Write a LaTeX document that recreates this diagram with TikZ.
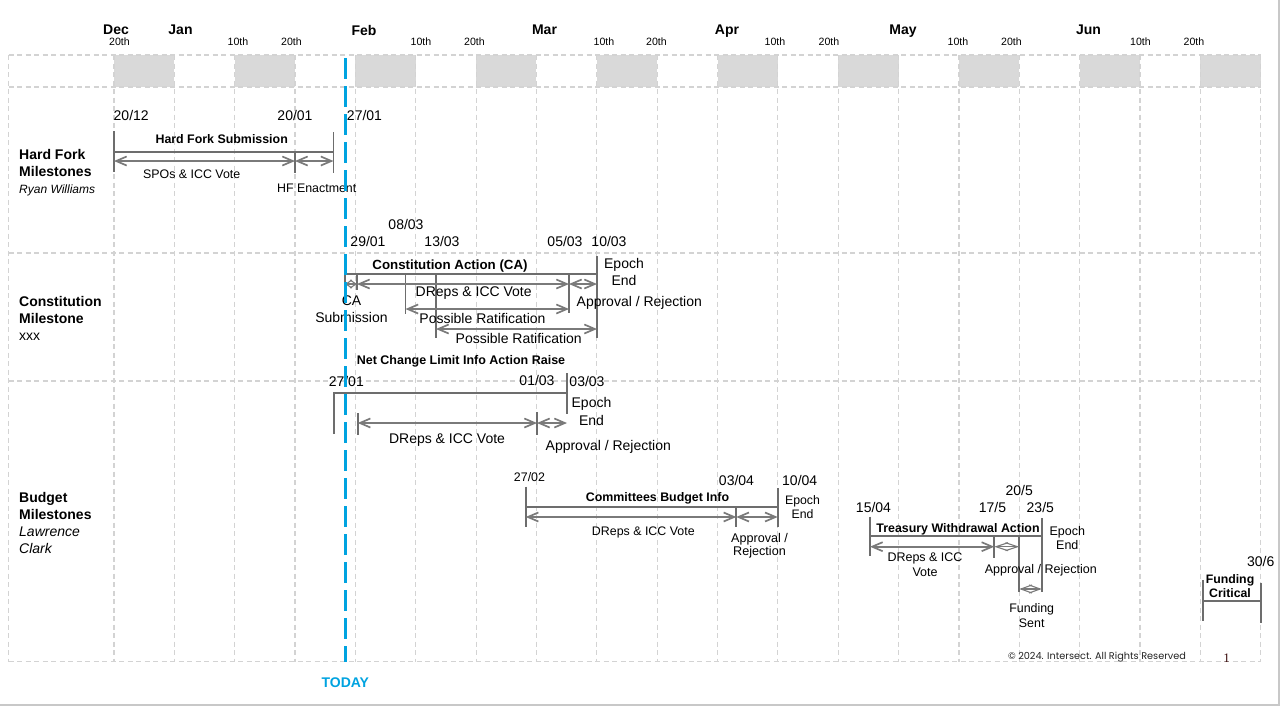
\documentclass[tikz,border=0pt]{standalone}
\usepackage{fontspec}
\usepackage{graphicx}
\setmainfont{Liberation Sans}
\newfontfamily\popfont{Poppins}
\newfontfamily\serfont{Liberation Serif}
\usetikzlibrary{arrows.meta}
\definecolor{gridc}{HTML}{D3D3D3}
\definecolor{bandc}{HTML}{D9D9D9}
\definecolor{barc}{HTML}{6D6D6D}
\definecolor{arrc}{HTML}{7A7A7A}
\definecolor{todayc}{HTML}{00A3E0}
\definecolor{framec}{HTML}{C8C8C8}
\definecolor{pagenumc}{HTML}{3A0C0C}
\definecolor{copyc}{HTML}{222222}
\newcommand\fsz[2]{\fontsize{#1}{#2}\selectfont}
\begin{document}
\begin{tikzpicture}[x=1pt,y=-1pt,
  gridline/.style={gridc, line width=1.2pt, dash pattern=on 5pt off 3.5pt},
  bandbox/.style={fill=bandc, draw=none},
  barline/.style={barc, line width=1.8pt},
  dbl/.style={arrc, line width=1.7pt, {Straight Barb[length=10.5pt,width=9pt]}-{Straight Barb[length=10.5pt,width=9pt]}},
  dia/.style={arrc, line width=1.1pt, {Straight Barb[length=#1,width=8pt]}-{Straight Barb[length=#1,width=8pt]}},
  txt/.style={inner sep=0pt, anchor=north, align=center},
  rowlbl/.style={inner sep=0pt, anchor=north west, align=left},
  tmonth/.style={txt, font=\fsz{14}{17}\bfseries},
  tday/.style={txt, font=\fsz{10.6}{12}},
  tdate/.style={txt, font=\fsz{14}{17}},
  tbig/.style={txt, font=\fsz{14}{17.4}},
  tsmall/.style={txt, font=\fsz{12.4}{14.3}},
  ttitle/.style={txt, font=\fsz{12.4}{14.3}\bfseries},
  todayline/.style={todayc, line width=3pt, dash pattern=on 21pt off 7pt},
  framel/.style={framec, line width=1.2pt}
]
\useasboundingbox (0,0) rectangle (1287,707);

% ---------- grid ----------
\foreach \i in {0,2,...,18}
  \fill[bandbox] ({114+60.35*\i},55) rectangle ({114+60.35*(\i+1)},87);
\foreach \yy in {55,87,253,381,661.5}
  \draw[gridline] (8.5,\yy) -- (1260.7,\yy);
\draw[gridline] (8.5,55) -- (8.5,661.5);
\foreach \i in {0,...,19}
  \draw[gridline] ({114+60.35*\i},55) -- ({114+60.35*\i},661.5);

% frame
\draw[framel] (1279,0) -- (1279,705) -- (0,705);

% ---------- header ----------
\node[tmonth] (mDec) at (116,24.8) {Dec};
\node[tmonth] (mJan) at (180.5,24.8) {Jan};
\node[tmonth] (mFeb) at (364,24.8) {Feb};
\node[tmonth] (mMar) at (544.5,24.8) {Mar};
\node[tmonth] (mApr) at (727,24.8) {Apr};
\node[tmonth] (mMay) at (903,24.8) {May};
\node[tmonth] (mJun) at (1088.5,24.8) {Jun};
\node[tday] (d1) at (119.5,38.1) {20th};
\node[tday] (d2) at (238,38.1) {10th};
\node[tday] (d3) at (291.5,38.1) {20th};
\node[tday] (d4) at (421,38.1) {10th};
\node[tday] (d5) at (474.5,38.1) {20th};
\node[tday] (d6) at (604,38.1) {10th};
\node[tday] (d7) at (656.5,38.1) {20th};
\node[tday] (d8) at (775,38.1) {10th};
\node[tday] (d9) at (829,38.1) {20th};
\node[tday] (d10) at (958,38.1) {10th};
\node[tday] (d11) at (1011.5,38.1) {20th};
\node[tday] (d12) at (1140.5,38.1) {10th};
\node[tday] (d13) at (1194,38.1) {20th};

% ---------- row labels ----------
\node[rowlbl, font=\fsz{14}{17}] (rHF) at (19,148.8)
  {\bfseries Hard Fork\\\bfseries Milestones\\\fsz{12}{16.7}\itshape Ryan Williams};
\node[rowlbl, font=\fsz{14}{17}] (rCM) at (19,296.3)
  {\bfseries Constitution\\\bfseries Milestone\\xxx};
\node[rowlbl, font=\fsz{14}{17}] (rBM) at (19,492.1)
  {\bfseries Budget\\\bfseries Milestones\\\itshape Lawrence\\\itshape Clark};

% ---------- Hard fork ----------
\coordinate (hfAt) at (114,131);   \coordinate (hfAb) at (114,172);
\coordinate (hfCt) at (333.5,132); \coordinate (hfCb) at (333.5,173);
\coordinate (hfBt) at (295,152);   \coordinate (hfBb) at (295,173);
\coordinate (hfL) at (114,152);    \coordinate (hfR) at (333.5,152);
\coordinate (hfa1) at (114,161); \coordinate (hfa2) at (295,161); \coordinate (hfa3) at (333.5,161);
\draw[barline] (hfAt) -- (hfAb);
\draw[barline] (hfCt) -- (hfCb);
\draw[barline] (hfBt) -- (hfBb);
\draw[barline] (hfL) -- (hfR);
\draw[dbl] (hfa1) -- (hfa2);
\draw[dbl] (hfa2) -- (hfa3);
\node[tdate] (hf1) at (131.2,110.5) {20/12};
\node[tdate] (hf2) at (295,110.5) {20/01};
\node[tdate] (hf3) at (364.5,110.5) {27/01};
\node[ttitle] (hfT) at (221.7,134.4) {Hard Fork Submission};
\node[tsmall] (hfV) at (191.7,169.4) {SPOs \& ICC Vote};
\node[tsmall] (hfE) at (316.7,183.4) {HF Enactment};

% ---------- Constitution ----------
\coordinate (c0t) at (345,257);   \coordinate (c0b) at (345,286);
\coordinate (cL) at (345,274);    \coordinate (cR) at (597,274);
\coordinate (c1t) at (357,274);   \coordinate (c1b) at (357,290);
\coordinate (c2t) at (405.5,274); \coordinate (c2b) at (405.5,314);
\coordinate (c3t) at (436,274);   \coordinate (c3b) at (436,338);
\coordinate (c4t) at (569,274);   \coordinate (c4b) at (569,313);
\coordinate (c5t) at (597,256);   \coordinate (c5b) at (597,338);
\coordinate (ca0) at (345,284); \coordinate (ca1) at (357,284);
\coordinate (ca4) at (569,284); \coordinate (ca5) at (597,284);
\coordinate (cp1) at (405.5,309); \coordinate (cp2) at (569,309);
\coordinate (cq1) at (436,329);   \coordinate (cq2) at (597,329);
\foreach \a/\b in {c0t/c0b,cL/cR,c1t/c1b,c2t/c2b,c3t/c3b,c4t/c4b,c5t/c5b}
  \draw[barline] (\a) -- (\b);
\draw[dia=6pt] (ca0) -- (ca1);
\draw[dbl] (ca1) -- (ca4);
\draw[dbl] (ca4) -- (ca5);
\draw[dbl] (cp1) -- (cp2);
\draw[dbl] (cq1) -- (cq2);
\node[tdate] (c08) at (406,218.8) {08/03};
\node[tdate] (c29) at (368,235.8) {29/01};
\node[tdate] (c13) at (442,235.8) {13/03};
\node[tdate] (c05) at (565,235.8) {05/03};
\node[tdate] (c10) at (609,235.8) {10/03};
\node[txt, font=\fsz{13.3}{15}\bfseries] (cT) at (450,259.4) {Constitution Action (CA)};
\node[tbig] (cEp) at (624,258.1) {Epoch\\End};
\node[tbig] (cSub) at (351.5,295.5) {CA\\Submission};
\node[tbig] (cV) at (473.7,286.8) {DReps \& ICC Vote};
\node[tbig] (cAR) at (639.3,295.8) {Approval / Rejection};
\node[tbig] (cPR1) at (482.5,313.1) {Possible Ratification};
\node[tbig] (cPR2) at (518.7,333.1) {Possible Ratification};

% ---------- Net change ----------
\coordinate (nL) at (334,392.7);  \coordinate (nR) at (567,392.7);
\coordinate (n0b) at (334,434);
\coordinate (n5t) at (567,373);   \coordinate (n5b) at (567,414);
\coordinate (n1t) at (357.7,413); \coordinate (n1b) at (357.7,435);
\coordinate (n2t) at (537,412);   \coordinate (n2b) at (537,435);
\coordinate (na1) at (357.7,423); \coordinate (na2) at (537,423); \coordinate (na3) at (567,423);
\draw[barline] (n0b) -- (nL) -- (nR);
\draw[barline] (n5t) -- (n5b);
\draw[barline] (n1t) -- (n1b);
\draw[barline] (n2t) -- (n2b);
\draw[dbl] (na1) -- (na2);
\draw[dbl] (na2) -- (na3);
\node[txt, font=\fsz{12.5}{14}\bfseries] (nT) at (461,355.4) {Net Change Limit Info Action Raise};
\node[tdate] (n27) at (346.3,375.8) {27/01};
\node[tdate] (n01) at (537,375) {01/03};
\node[tdate] (n03) at (587,375.8) {03/03};
\node[txt, font=\fsz{14}{17.7}] (nEp) at (591.5,397.1) {Epoch\\End};
\node[tbig] (nV) at (447,433.1) {DReps \& ICC Vote};
\node[tbig] (nAR) at (608.3,439.8) {Approval / Rejection};

% ---------- Committees budget ----------
\coordinate (bL) at (525.7,507.3);  \coordinate (bR) at (777.7,507.3);
\coordinate (b0t) at (525.7,486.7); \coordinate (b0b) at (525.7,527);
\coordinate (b2t) at (777.7,488);   \coordinate (b2b) at (777.7,527);
\coordinate (b1t) at (736.3,507.3); \coordinate (b1b) at (736.3,527);
\coordinate (ba0) at (525.7,517); \coordinate (ba1) at (736.3,517); \coordinate (ba2) at (777.7,517);
\foreach \a/\b in {bL/bR,b0t/b0b,b2t/b2b,b1t/b1b}
  \draw[barline] (\a) -- (\b);
\draw[dbl] (ba0) -- (ba1);
\draw[dbl] (ba1) -- (ba2);
\node[txt, font=\fsz{12.4}{14}] (b27) at (529.5,472.1) {27/02};
\node[tdate] (b03) at (736.5,474.8) {03/04};
\node[tdate] (b10) at (799.7,474.8) {10/04};
\node[ttitle] (bT) at (657.5,492.1) {Committees Budget Info};
\node[txt, font=\fsz{12.3}{14.3}] (bEp) at (802.5,495.4) {Epoch\\End};
\node[tsmall] (bV) at (643.3,526.4) {DReps \& ICC Vote};
\node[txt, font=\fsz{12.6}{13}] (bAR) at (759.5,533) {Approval /\\Rejection};

% ---------- Treasury withdrawal ----------
\coordinate (tL) at (870,536.3);     \coordinate (tR) at (1041.7,536.3);
\coordinate (t0t) at (870,516.7);    \coordinate (t0b) at (870,556);
\coordinate (t3t) at (1041.7,518);   \coordinate (t3b) at (1041.7,591.7);
\coordinate (t1t) at (994.3,536.3);  \coordinate (t1b) at (994.3,558);
\coordinate (t2t) at (1019.3,536.3); \coordinate (t2b) at (1019.3,592);
\coordinate (ta0) at (870,546.7); \coordinate (ta1) at (994.3,546.7); \coordinate (ta2) at (1019.3,546.7);
\coordinate (tf1) at (1019.3,589); \coordinate (tf2) at (1041.7,589);
\foreach \a/\b in {tL/tR,t0t/t0b,t3t/t3b,t1t/t1b,t2t/t2b}
  \draw[barline] (\a) -- (\b);
\draw[dbl] (ta0) -- (ta1);
\draw[dia=12pt] (ta1) -- (ta2);
\draw[dia=11pt] (tf1) -- (tf2);
\node[tdate] (t20) at (1019.2,485.1) {20/5};
\node[tdate] (t15) at (873.5,502.1) {15/04};
\node[tdate] (t17) at (992.5,502.1) {17/5};
\node[tdate] (t23) at (1040.3,502.1) {23/5};
\node[ttitle] (tT) at (958,523.7) {Treasury Withdrawal Action};
\node[txt, font=\fsz{12.5}{14}] (tEp) at (1067.3,526.4) {Epoch\\End};
\node[txt, font=\fsz{12.5}{14.4}] (tV) at (925,552.7) {DReps \& ICC\\Vote};
\node[txt, font=\fsz{12.5}{14}] (tAR) at (1040.8,564.4) {Approval / Rejection};
\node[txt, font=\fsz{12.4}{15.6}] (tFS) at (1031.7,603.1) {Funding\\Sent};

% ---------- Funding critical ----------
\coordinate (f0t) at (1202.7,580);  \coordinate (f0b) at (1202.7,620.7);
\coordinate (fL) at (1202.7,600.7); \coordinate (fR) at (1261,600.7);
\coordinate (f1t) at (1261,582.7);  \coordinate (f1b) at (1261,623);
\draw[barline] (f0t) -- (f0b);
\draw[barline] (fL) -- (fR);
\draw[barline] (f1t) -- (f1b);
\node[tdate] (f30) at (1260.7,555.8) {30/6};
\node[txt, font=\fsz{12.3}{14.3}\bfseries] (fT) at (1230,574.4) {Funding\\Critical};

% ---------- footer ----------
\node[inner sep=0pt, anchor=center, text=copyc] (copy) at (1097,657.5)
  {\resizebox{178pt}{!}{\popfont\fsz{8}{9}© 2024. Intersect. All Rights Reserved}};
\node[txt, font=\serfont\fsz{13}{14}, text=pagenumc] (pg) at (1226.7,653.5) {1};

% ---------- today ----------
\coordinate (tdT) at (345,58);
\coordinate (tdB) at (345,661.5);
\draw[todayline] (tdT) -- (tdB);
\node[txt, font=\fsz{14}{17}\bfseries, text=todayc] (today) at (345.3,677.8) {TODAY};
\end{tikzpicture}
\end{document}
